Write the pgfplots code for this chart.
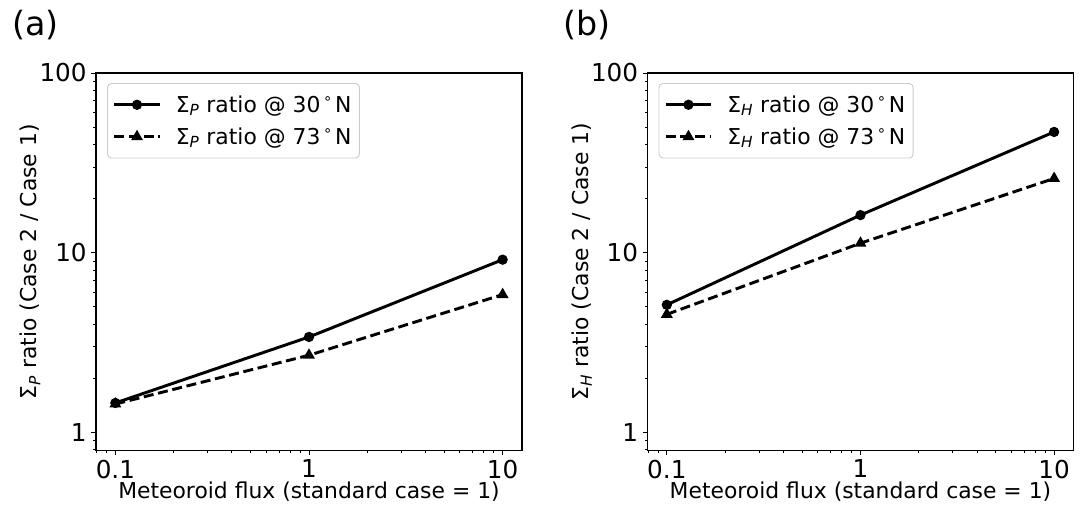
\documentclass[border=0pt]{standalone}
\usepackage{fontspec}
\setmainfont{DejaVu Sans}
\usepackage{pgfplots}
\pgfplotsset{compat=1.18}
\newcommand{\fs}{\fontsize{16.4}{19}\selectfont}
\newcommand{\fl}{\fontsize{16.4}{19}\selectfont}
\newcommand{\ft}{\fontsize{18.5}{21}\selectfont}
\newcommand{\dg}{\,\raisebox{3.7pt}{\fontsize{11}{11}\selectfont °}\,}
\pgfplotsset{
 every axis/.append style={
  xmode=log, ymode=log, scale only axis, width=319.5pt, height=283.1pt,
  xmin=0.0794328, xmax=12.589254, ymin=0.794328, ymax=100,
  xtick={0.1,1,10}, xticklabels={0.1,1,10},
  ytick={1,10,100}, yticklabels={1,10,100},
  minor xtick={0.08,0.09,0.2,0.3,0.4,0.5,0.6,0.7,0.8,0.9,2,3,4,5,6,7,8,9},
  minor ytick={0.8,0.9,2,3,4,5,6,7,8,9,20,30,40,50,60,70,80,90},
  tick align=outside, tick pos=left,
  major tick length=3.5pt, minor tick length=2pt,
  axis line style={line width=0.9pt},
  tick label style={font=\ft},
  label style={font=\fs},
  xlabel={Meteoroid flux (standard case = 1)},
  xlabel style={at={(axis description cs:0.5,-0.11)}, anchor=center},
  ylabel style={at={(axis description cs:-0.154,0.5)}, anchor=center},
  clip=false,
  legend style={at={(axis description cs:0.026,0.9735)}, anchor=north west,
    draw=black!20, line width=0.7pt, rounded corners=3pt, font=\fl,
    inner xsep=4pt, inner ysep=7pt, row sep=6pt},
  legend cell align=left,
 },
 every tick/.style={black, line width=0.7pt},
 legend image code/.code={\draw[mark repeat=2,mark phase=2,#1] plot coordinates {(0pt,0pt) (17pt,0pt) (34pt,0pt)};},
}
\begin{document}
\begin{tikzpicture}
\path[use as bounding box] (0,0) rectangle (811.5pt,380.25pt);

\begin{axis}[at={(72pt,42.4pt)}, anchor=south west,
  ylabel={Σ\textsubscript{\textit{P}} ratio (Case 2 / Case 1)}]
\addplot[black, solid, line width=2.2pt, mark=*, mark size=2.7pt] coordinates {(0.1,1.46) (1,3.40) (10,9.15)};
\addlegendentry{\kern9pt Σ\textsubscript{\textit{P}} ratio @ 30\dg N}
\addplot[black, line width=2.2pt, dash pattern=on 7.5pt off 3.5pt, mark=triangle*, mark size=3pt, mark options={solid}] coordinates {(0.1,1.44) (1,2.69) (10,5.85)};
\addlegendentry{\kern9pt Σ\textsubscript{\textit{P}} ratio @ 73\dg N}
\node[anchor=north west, inner sep=0pt, font=\fontsize{25}{29}\selectfont] at (axis description cs:-0.197,1.167) {(a)};
\end{axis}

\begin{axis}[at={(485.6pt,42.4pt)}, anchor=south west,
  ylabel={Σ\textsubscript{\textit{H}} ratio (Case 2 / Case 1)}]
\addplot[black, solid, line width=2.2pt, mark=*, mark size=2.7pt] coordinates {(0.1,5.13) (1,16.2) (10,47.0)};
\addlegendentry{\kern9pt Σ\textsubscript{\textit{H}} ratio @ 30\dg N}
\addplot[black, line width=2.2pt, dash pattern=on 7.5pt off 3.5pt, mark=triangle*, mark size=3pt, mark options={solid}] coordinates {(0.1,4.54) (1,11.3) (10,25.9)};
\addlegendentry{\kern9pt Σ\textsubscript{\textit{H}} ratio @ 73\dg N}
\node[anchor=north west, inner sep=0pt, font=\fontsize{25}{29}\selectfont] at (axis description cs:-0.197,1.167) {(b)};
\end{axis}
\end{tikzpicture}
\end{document}
